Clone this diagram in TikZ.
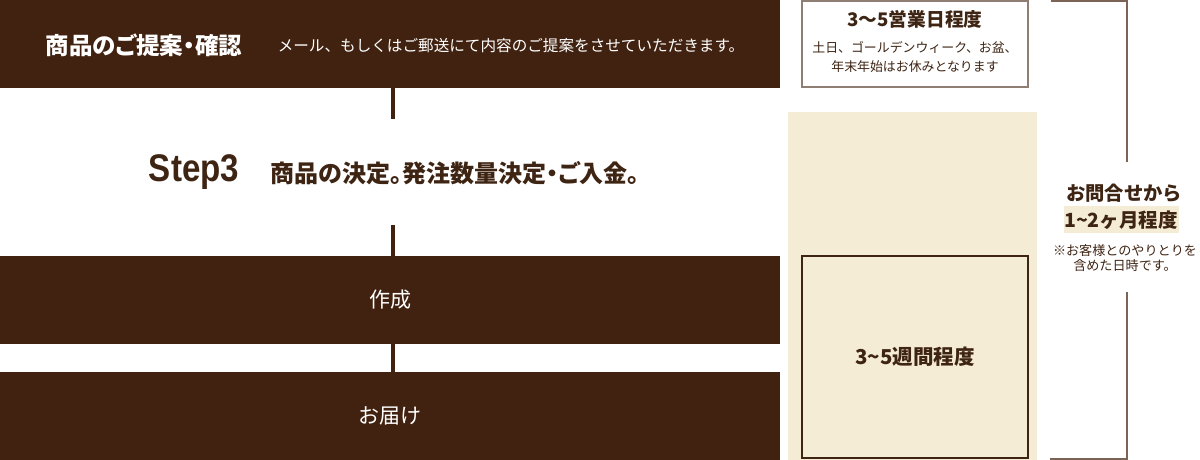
\documentclass[tikz,border=0pt]{standalone}
\usepackage{fontspec}
\newfontfamily\jp{Noto Sans CJK JP}
\newfontfamily\jpp{Noto Sans CJK JP}[RawFeature=+palt]
\newfontfamily\latin{Liberation Sans}[FakeStretch=0.86]
\definecolor{barbrown}{HTML}{412210}
\definecolor{txtbrown}{HTML}{3E2413}
\definecolor{beige}{HTML}{F5ECD5}
\definecolor{boxgray}{HTML}{8E7E74}
\definecolor{bracketbrown}{HTML}{7B6456}
\newcommand{\fs}[1]{\fontsize{#1}{#1}\selectfont}
\begin{document}
\begin{tikzpicture}[x=1pt,y=-1pt,
    bar/.style={fill=barbrown,text=white,minimum width=780pt,minimum height=88pt,inner sep=0pt,font=\jp\fs{21}},
    label/.style={inner sep=0pt,text=txtbrown,font=\jp},
    link/.style={draw=barbrown,line width=4.5pt},
    span/.style={draw=bracketbrown,line width=1.4pt}]
\useasboundingbox (0,0) rectangle (1200,460);

% steps on the left
\node[bar] (confirm) at (390,44) {};
\node[inner sep=0pt,minimum width=780pt,minimum height=106pt] (decide) at (390,172) {};
\node[bar] (make) at (390,300) {作成};
\node[bar] (deliver) at (390,416) {お届け};
\coordinate (axis) at (393,0);

\node[inner sep=0pt,text=white,font=\jpp\bfseries\fs{23.5}] (confirmtitle) at (144,45) {商品のご提案・確認};
\node[inner sep=0pt,text=white,font=\jp\fs{15.6}] (confirmtext) at (511,46) {メール、もしくはご郵送にて内容のご提案をさせていただきます。};
\node[label,font=\latin\bfseries\fs{38.5}] (steplabel) at (194,172) {Step3};
\node[label,font=\jpp\bfseries\fs{24}] (decidetext) at (455,173) {商品の決定。発注数量決定・ご入金。};

\draw[link] (confirm.south -| axis) -- (decide.north -| axis);
\draw[link] (decide.south -| axis) -- (make.north -| axis);
\draw[link] (make.south -| axis) -- (deliver.north -| axis);

% durations
\fill[beige] (788,112) rectangle (1037,460);
\node[draw=boxgray,fill=white,line width=1.3pt,minimum width=226pt,minimum height=86pt] (workdays) at (915,44) {};
\node[label,font=\jp\bfseries\fs{18.7}] (workdaystitle) at (915,19) {3〜5営業日程度};
\node[label,font=\jp\fs{12.9}] (holiday1) at (915,47) {土日、ゴールデンウィーク、お盆、};
\node[label,font=\jp\fs{12.9}] (holiday2) at (915,67) {年末年始はお休みとなります};
\node[draw=txtbrown,line width=1.3pt,minimum width=226pt,minimum height=202pt,label,font=\jp\bfseries\fs{20.5}] (weeks) at (915,357) {3\string~5週間程度};

% total span
\node[inner sep=0pt,minimum height=130pt] (total) at (1127,227) {};
\draw[span] (1051,1) -| (total.north);
\draw[span] (total.south) |- (1050,459);
\fill[beige] (1064,206) rectangle (1179,233);
\node[label,font=\jp\bfseries\fs{19.3}] (totaltitle) at (1124,193) {お問合せから};
\node[label,font=\jp\bfseries\fs{19.5}] (totalmonths) at (1121,220) {1\string~2ヶ月程度};
\node[label,font=\jp\fs{13.1}] (note1) at (1125,251) {※お客様とのやりとりを};
\node[label,font=\jp\fs{13.1}] (note2) at (1125,266) {含めた日時です。};
\end{tikzpicture}
\end{document}
